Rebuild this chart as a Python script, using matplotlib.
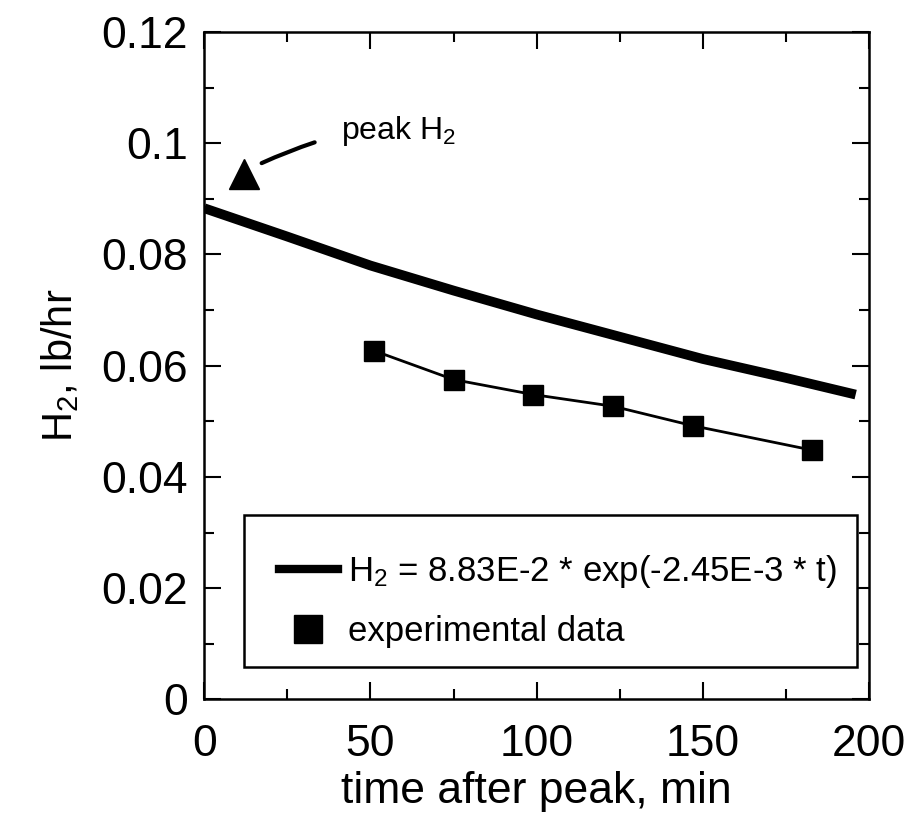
import matplotlib
matplotlib.use("Agg")
import matplotlib.pyplot as plt
from matplotlib.lines import Line2D
from matplotlib.patches import Rectangle
from matplotlib.ticker import MultipleLocator

plt.rcParams['font.family'] = ['Liberation Sans', 'DejaVu Sans']
plt.rcParams['mathtext.fontset'] = 'custom'
plt.rcParams['mathtext.rm'] = 'Liberation Sans'
plt.rcParams['mathtext.it'] = 'Liberation Sans'

# fitted curve
fit_t = [0, 25, 50, 75, 100, 125, 150, 175, 196]
fit_h2 = [0.0883, 0.0832, 0.0780, 0.0735, 0.0692, 0.0652, 0.0612, 0.0578, 0.0548]

# experimental points
exp_t = [51, 75, 99, 123, 147, 183]
exp_h2 = [0.0627, 0.0575, 0.0548, 0.0527, 0.0492, 0.0448]

# peak marker
peak_t = [12]
peak_h2 = [0.0945]

fig = plt.figure(figsize=(9.08, 8.18), dpi=100)
ax = fig.add_axes([0.225, 0.145, 0.732, 0.816])

ax.plot(fit_t, fit_h2, color='black', lw=7, solid_capstyle='butt')
ax.plot(exp_t, exp_h2, color='black', lw=2, marker='s', ms=15)
ax.plot(peak_t, peak_h2, color='black', marker='^', ms=21, ls='none')

ax.annotate('', xy=(16.5, 0.0962), xytext=(34, 0.1003),
            arrowprops=dict(arrowstyle='-', color='black', lw=3,
                            connectionstyle='arc3,rad=0.03'))
ax.text(41, 0.1022, 'peak H$_2$', fontsize=23, va='center', ha='left')

ax.set_xlim(0, 200)
ax.set_ylim(0, 0.12)
ax.xaxis.set_major_locator(MultipleLocator(50))
ax.xaxis.set_minor_locator(MultipleLocator(25))
ax.yaxis.set_major_locator(MultipleLocator(0.02))
ax.yaxis.set_minor_locator(MultipleLocator(0.01))
ax.yaxis.set_major_formatter(plt.FuncFormatter(lambda v, p: ('%g' % round(v, 3))))
ax.tick_params(which='both', direction='in', top=True, right=True, width=1.5)
ax.tick_params(which='major', length=12, labelsize=32)
ax.tick_params(axis='x', which='major', pad=18)
ax.tick_params(axis='y', which='major', pad=12)
ax.tick_params(which='minor', length=7)
for s in ax.spines.values():
    s.set_linewidth(1.8)

ax.set_xlabel('time after peak, min', fontsize=32, labelpad=4)
ax.set_ylabel('H$_2$, lb/hr', fontsize=30, labelpad=14)

# legend box drawn on its own so the padding can match
ax.add_patch(Rectangle((0.06, 0.048), 0.922, 0.228, transform=ax.transAxes,
                       fill=True, facecolor='white', edgecolor='black', lw=1.8, zorder=4))
handles = [Line2D([], [], color='black', lw=6),
           Line2D([], [], color='black', marker='s', ms=20, ls='none')]
labels = ['H$_2$ = 8.83E-2 * exp(-2.45E-3 * t)', 'experimental data']
leg = ax.legend(handles, labels, loc='center left',
                bbox_to_anchor=(0.112, 0.148), frameon=False,
                fontsize=25, handlelength=1.7, handletextpad=0.3,
                borderpad=0, labelspacing=0.7, borderaxespad=0)
leg.set_zorder(5)

fig.savefig('out.png', dpi=100)
